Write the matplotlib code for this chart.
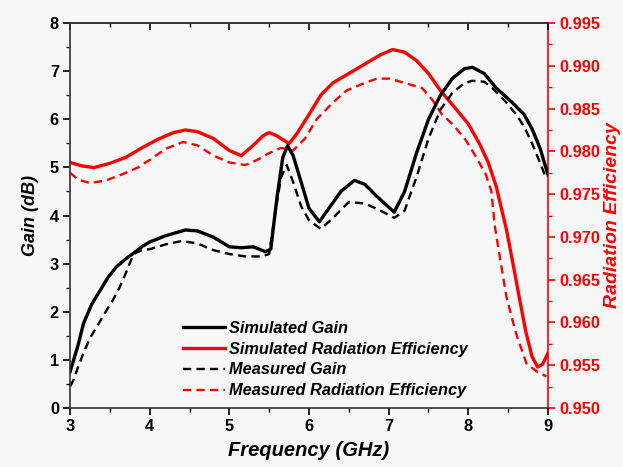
import matplotlib
matplotlib.use("Agg")
import matplotlib.pyplot as plt
from matplotlib.ticker import MultipleLocator, FormatStrFormatter

# ---------------- data ----------------
sim_gain_f = [3.0, 3.1, 3.17, 3.27, 3.38, 3.48, 3.58, 3.7, 3.8, 3.9, 4.0, 4.2, 4.45, 4.6, 4.8,
              5.0, 5.15, 5.3, 5.45, 5.52, 5.6, 5.67, 5.73, 5.8, 5.9, 6.0, 6.13, 6.25, 6.4,
              6.57, 6.7, 6.85, 7.07, 7.2, 7.35, 7.5, 7.65, 7.8, 7.95, 8.05, 8.2, 8.35, 8.55,
              8.7, 8.8, 8.9, 9.0]
sim_gain = [0.75, 1.3, 1.76, 2.15, 2.45, 2.72, 2.93, 3.1, 3.22, 3.35, 3.45, 3.58, 3.7, 3.68, 3.55,
            3.35, 3.33, 3.35, 3.25, 3.3, 4.4, 5.2, 5.45, 5.25, 4.7, 4.15, 3.87, 4.15, 4.5,
            4.73, 4.65, 4.4, 4.07, 4.5, 5.3, 6.0, 6.5, 6.85, 7.05, 7.08, 6.95, 6.65, 6.35,
            6.1, 5.8, 5.4, 4.85]

meas_gain_f = [3.0, 3.05, 3.1, 3.17, 3.25, 3.34, 3.44, 3.54, 3.62, 3.7, 3.76, 3.8, 3.9, 4.0, 4.2,
               4.4, 4.6, 4.8, 5.0, 5.2, 5.4, 5.5, 5.57, 5.65, 5.72, 5.8, 5.9, 6.0, 6.15,
               6.3, 6.5, 6.7, 6.9, 7.07, 7.2, 7.35, 7.5, 7.65, 7.8, 7.95, 8.05, 8.2, 8.3,
               8.45, 8.6, 8.7, 8.8, 8.9, 8.97]
meas_gain = [0.45, 0.6, 0.85, 1.15, 1.45, 1.7, 1.98, 2.25, 2.5, 2.8, 3.05, 3.2, 3.28, 3.3, 3.4,
             3.47, 3.42, 3.28, 3.2, 3.15, 3.15, 3.2, 4.0, 4.8, 5.05, 4.7, 4.2, 3.9, 3.72,
             3.95, 4.28, 4.25, 4.1, 3.95, 4.1, 4.8, 5.6, 6.2, 6.55, 6.75, 6.8, 6.78, 6.65,
             6.4, 6.1, 5.85, 5.5, 5.1, 4.8]

sim_eff_f = [3.0, 3.15, 3.3, 3.5, 3.7, 3.9, 4.1, 4.3, 4.45, 4.6, 4.8, 5.0, 5.15, 5.3, 5.42,
             5.5, 5.6, 5.75, 5.85, 6.0, 6.15, 6.3, 6.5, 6.7, 6.9, 7.05, 7.2, 7.35, 7.5,
             7.65, 7.85, 8.0, 8.14, 8.25, 8.35, 8.48, 8.56, 8.64, 8.72, 8.8, 8.87, 8.93, 9.0]
sim_eff = [0.9787, 0.9783, 0.9781, 0.9786, 0.9793, 0.9804, 0.9814, 0.9822, 0.9825, 0.9823,
           0.9815, 0.9801, 0.9795, 0.9807, 0.9818, 0.9822, 0.9818, 0.9809, 0.9821, 0.9843,
           0.9866, 0.9880, 0.9891, 0.9902, 0.9913, 0.9919, 0.9916, 0.9906, 0.9891, 0.9871,
           0.9849, 0.9832, 0.9809, 0.9787, 0.9759, 0.9708, 0.9669, 0.9629, 0.9590, 0.9560,
           0.9548, 0.9551, 0.9564]

meas_eff_f = [3.0, 3.1, 3.25, 3.45, 3.65, 3.85, 4.0, 4.2, 4.42, 4.6, 4.8, 5.0, 5.2, 5.35,
              5.5, 5.65, 5.8, 5.95, 6.1, 6.3, 6.47, 6.7, 6.85, 7.01, 7.2, 7.42, 7.55, 7.67,
              7.8, 7.97, 8.1, 8.22, 8.29, 8.33, 8.4, 8.48, 8.6, 8.73, 8.87, 8.98]
meas_eff = [0.9775, 0.9767, 0.9763, 0.9766, 0.9773, 0.9781, 0.9790, 0.9803, 0.9811, 0.9807,
            0.9795, 0.9787, 0.9784, 0.9790, 0.9798, 0.9804, 0.9801, 0.9815, 0.9838, 0.9857,
            0.9871, 0.9880, 0.9885, 0.9885, 0.9880, 0.9874, 0.9860, 0.9843, 0.9832, 0.9813,
            0.9793, 0.9773, 0.9753, 0.9714, 0.9674, 0.9629, 0.9587, 0.9552, 0.9542, 0.9537]

labels = ["Simulated Gain", "Simulated Radiation Efficiency",
          "Measured Gain", "Measured Radiation Efficiency"]

# ---------------- figure ----------------
plt.rcParams['font.family'] = ['Liberation Sans', 'DejaVu Sans']
bg = '#f7f7f7'
fig = plt.figure(figsize=(6.23, 4.67), dpi=100, facecolor=bg)
ax = fig.add_axes([0.1124, 0.1263, 0.7672, 0.8244], facecolor=bg)
ax2 = ax.twinx()

red = '#ff0000'
l1, = ax.plot(sim_gain_f, sim_gain, color='black', lw=2.4, solid_joinstyle='round')
l3, = ax.plot(meas_gain_f, meas_gain, color='black', lw=1.7, ls=(0, (3.5, 2.2)))
l2, = ax2.plot(sim_eff_f, sim_eff, color=red, lw=2.4, solid_joinstyle='round')
l4, = ax2.plot(meas_eff_f, meas_eff, color=red, lw=1.7, ls=(0, (3.5, 2.2)))

ax.set_xlim(3, 9)
ax.set_ylim(0, 8)
ax2.set_ylim(0.950, 0.995)

ax.xaxis.set_major_locator(MultipleLocator(1))
ax.xaxis.set_minor_locator(MultipleLocator(0.5))
ax.yaxis.set_major_locator(MultipleLocator(1))
ax.yaxis.set_minor_locator(MultipleLocator(0.5))
ax2.yaxis.set_major_locator(MultipleLocator(0.005))
ax2.yaxis.set_minor_locator(MultipleLocator(0.0025))
ax2.yaxis.set_major_formatter(FormatStrFormatter('%.3f'))

tfs = 11.8
ax.tick_params(axis='both', which='major', direction='out', length=5, width=1.2,
               labelsize=tfs, pad=3)
ax.tick_params(axis='both', which='minor', direction='out', length=3, width=1.0)
ax2.tick_params(axis='y', which='major', direction='out', length=5, width=1.2,
                labelsize=tfs, colors=red, pad=3)
ax2.tick_params(axis='y', which='minor', direction='out', length=3, width=1.0, colors=red)
for t in ax.get_xticklabels() + ax.get_yticklabels() + ax2.get_yticklabels():
    t.set_fontweight('bold')

sec = ax.secondary_xaxis('top')
sec.xaxis.set_major_locator(MultipleLocator(1))
sec.xaxis.set_minor_locator(MultipleLocator(0.5))
sec.tick_params(which='major', direction='in', length=5, width=1.2, labeltop=False)
sec.tick_params(which='minor', direction='in', length=3, width=1.0)
sec.spines['top'].set_linewidth(1.2)
sec.spines['top'].set_color('#333333')

for s in ['left', 'bottom', 'top']:
    ax.spines[s].set_linewidth(1.2)
    ax.spines[s].set_color('#333333')
ax2.spines['right'].set_color(red)
ax2.spines['right'].set_linewidth(1.2)
ax2.spines['left'].set_visible(False)
ax2.spines['top'].set_visible(False)
ax2.spines['bottom'].set_visible(False)
ax.spines['right'].set_visible(False)

ax.set_xlabel('Frequency (GHz)', fontsize=14.5, fontweight='bold', fontstyle='italic', labelpad=5)
ax.set_ylabel('Gain (dB)', fontsize=13, fontweight='bold', fontstyle='italic', labelpad=8)
ax2.set_ylabel('Radiation Efficiency', fontsize=14, fontweight='bold', fontstyle='italic',
               color=red, labelpad=3)

leg = ax.legend([l1, l2, l3, l4], labels, loc='lower left', bbox_to_anchor=(0.222, 0.008),
                borderaxespad=0, frameon=False, handlelength=2.6, handletextpad=0.2,
                labelspacing=0.36, prop={'size': 11.8, 'weight': 'bold', 'style': 'italic'})
ax.set_zorder(ax2.get_zorder() + 1)
ax.patch.set_visible(False)
ax2.patch.set_facecolor(bg)

fig.savefig('out.png', dpi=100, facecolor=bg)
